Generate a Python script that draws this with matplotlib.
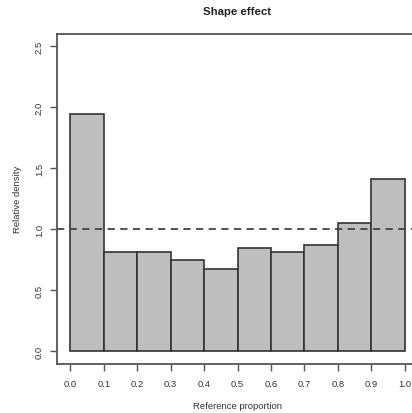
import matplotlib
matplotlib.use("Agg")
import matplotlib.pyplot as plt
import numpy as np

bin_edges = [0.0, 0.1, 0.2, 0.3, 0.4, 0.5, 0.6, 0.7, 0.8, 0.9, 1.0]
densities = [1.945, 0.816, 0.816, 0.748, 0.672, 0.847, 0.816, 0.869, 1.054, 1.412]
x_ticks = [0.0, 0.1, 0.2, 0.3, 0.4, 0.5, 0.6, 0.7, 0.8, 0.9, 1.0]
y_ticks = [0.0, 0.5, 1.0, 1.5, 2.0, 2.5]
ref_line = 1.0

plt.rcParams['font.family'] = ['Liberation Sans', 'DejaVu Sans']
W, H = 412, 414
fig = plt.figure(figsize=(W / 100, H / 100), dpi=100)
fig.patch.set_facecolor('white')

left, right, top, bottom = 57, 418, 35, 364.5
ax = fig.add_axes([left / W, 1 - bottom / H, (right - left) / W, (bottom - top) / H])

lefts = np.array(bin_edges[:-1])
widths = np.diff(bin_edges)
ax.bar(lefts, densities, width=widths, align='edge', color='#bebebe',
       edgecolor='#333333', linewidth=1.2)
ax.axhline(ref_line, color='#444444', linestyle=(0, (4, 3)), linewidth=1.3)

ax.set_xlim(-0.04, 1.04)
ax.set_ylim(-0.1, 2.6)
ax.set_xticks(x_ticks)
ax.set_xticklabels([f"{v:.1f}" for v in x_ticks])
ax.set_yticks(y_ticks)
ax.set_yticklabels([f"{v:.1f}" for v in y_ticks], rotation=90, va='center')

for s in ax.spines.values():
    s.set_color('#555555')
    s.set_linewidth(1.3)

ax.tick_params(axis='both', length=5, width=1.0, color='#555555',
               labelsize=6.8, labelcolor='#333333')
ax.tick_params(axis='x', pad=6.5)
ax.tick_params(axis='y', pad=4.5)

ax.set_xlabel('Reference proportion', fontsize=6.8, color='#333333', labelpad=9)
ax.set_ylabel('Relative density', fontsize=6.8, color='#333333', labelpad=9)
fig.text(237.5 / W, 1 - 12 / H, 'Shape effect', ha='center', va='center',
         fontsize=8.2, fontweight='bold', color='#222222')

fig.savefig('out.png', dpi=100)
